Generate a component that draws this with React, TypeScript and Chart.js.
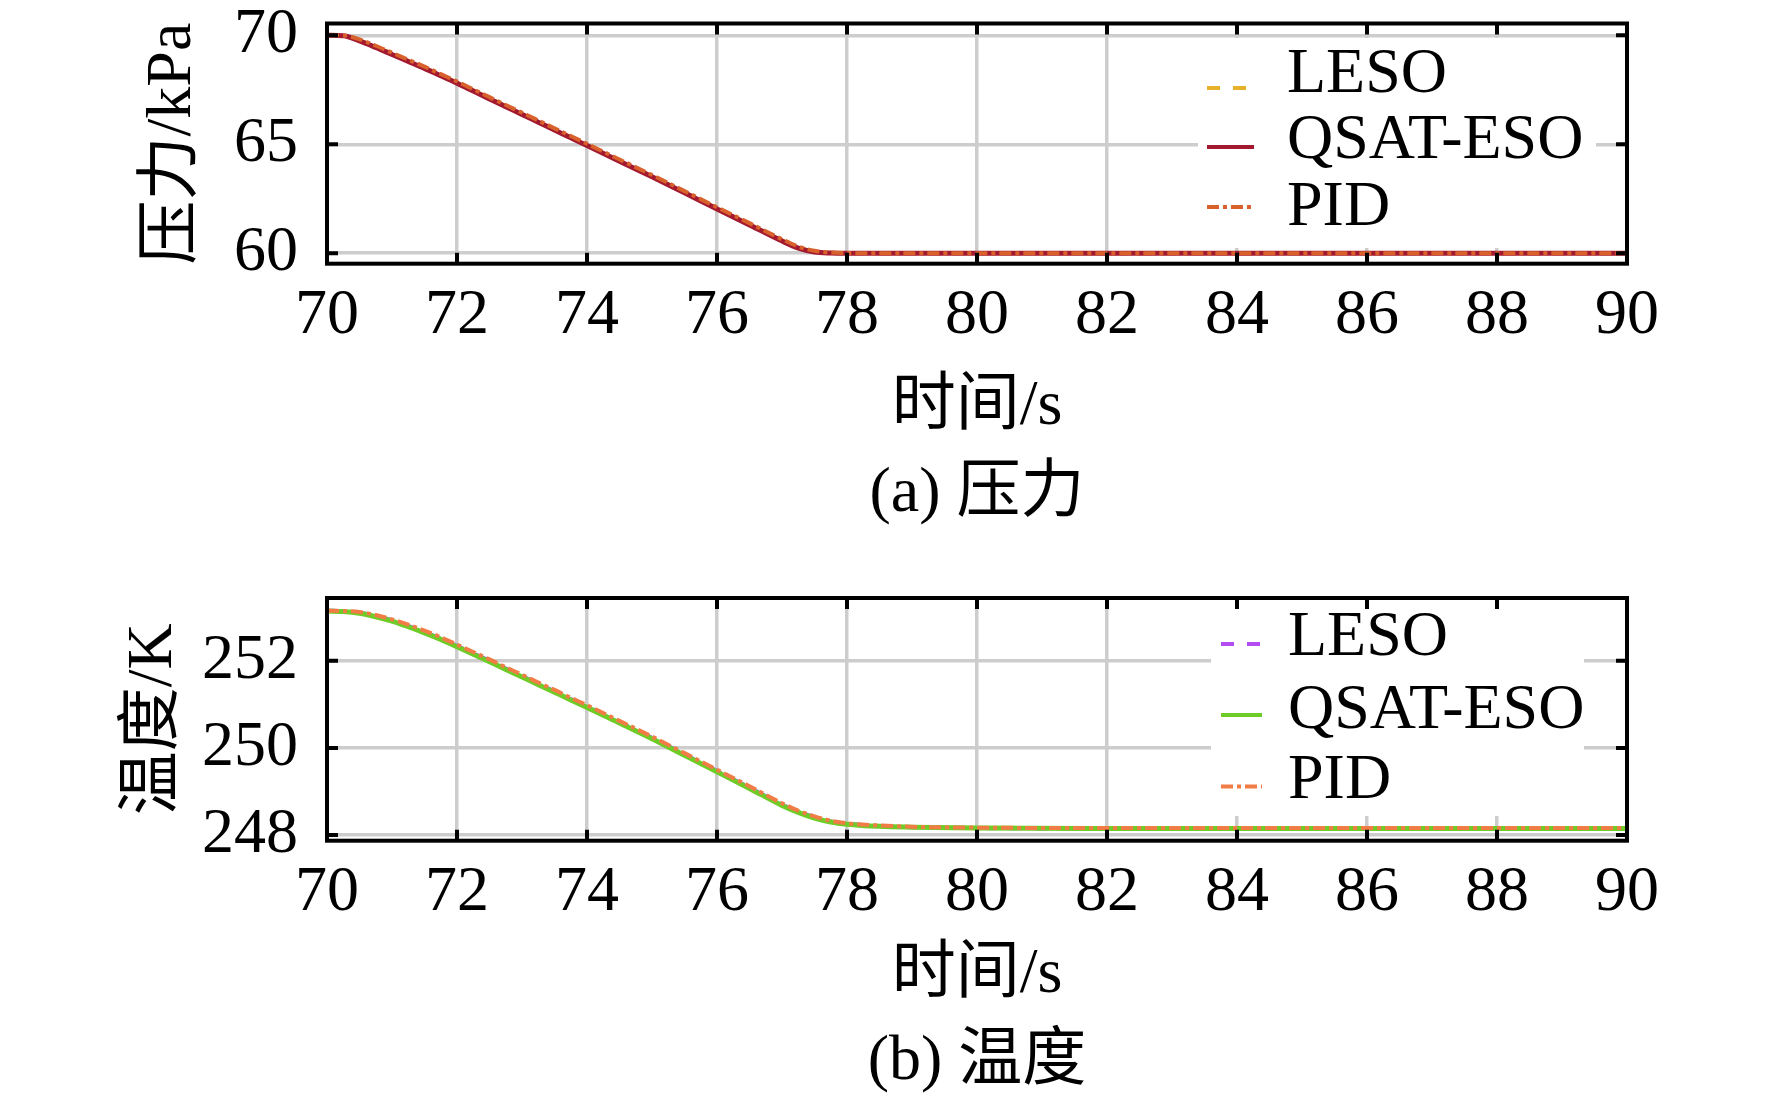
import { useEffect, useRef } from "react";
import { Chart, registerables } from "chart.js";

Chart.register(...registerables);

// time axis, seconds
const times = [
  70, 70.25, 70.5, 70.75, 71, 71.25, 71.5, 71.75, 72, 72.25, 72.5, 72.75, 73,
  73.25, 73.5, 73.75, 74, 74.5, 75, 75.5, 76, 76.5, 77, 77.25, 77.5, 77.75, 78,
  78.5, 79, 80, 82, 84, 86, 88, 90,
];

// (a) pressure, kPa
const pressureLeso = [
  70.0, 69.99, 69.77, 69.47, 69.15, 68.83, 68.51, 68.17, 67.83, 67.47, 67.11,
  66.75, 66.4, 66.04, 65.68, 65.33, 64.97, 64.25, 63.54, 62.8, 62.06, 61.33,
  60.59, 60.27, 60.08, 60.02, 60.0, 60.0, 60.0, 60.0, 60.0, 60.0, 60.0, 60.0,
  60.0,
];
const pressureQsat = [
  70.0, 69.98, 69.74, 69.44, 69.12, 68.8, 68.48, 68.14, 67.8, 67.44, 67.08,
  66.72, 66.37, 66.01, 65.65, 65.3, 64.94, 64.22, 63.51, 62.77, 62.03, 61.3,
  60.56, 60.24, 60.06, 60.01, 60.0, 60.0, 60.0, 60.0, 60.0, 60.0, 60.0, 60.0,
  60.0,
];
const pressurePid = [
  70.0, 69.99, 69.81, 69.52, 69.2, 68.88, 68.56, 68.22, 67.88, 67.52, 67.16,
  66.8, 66.45, 66.09, 65.73, 65.38, 65.02, 64.3, 63.59, 62.85, 62.11, 61.38,
  60.64, 60.31, 60.11, 60.03, 60.01, 60.0, 60.0, 60.0, 60.0, 60.0, 60.0, 60.0,
  60.0,
];

// (b) temperature, K
const tempLeso = [
  253.15, 253.14, 253.1, 253.03, 252.93, 252.8, 252.66, 252.51, 252.34,
  252.17, 252.0, 251.82, 251.65, 251.47, 251.3, 251.12, 250.95, 250.59,
  250.23, 249.85, 249.47, 249.09, 248.7, 248.54, 248.41, 248.31, 248.26,
  248.21, 248.18, 248.16, 248.15, 248.15, 248.15, 248.15, 248.15,
];
const tempQsat = [
  253.14, 253.13, 253.09, 253.01, 252.91, 252.78, 252.64, 252.49, 252.32,
  252.15, 251.98, 251.8, 251.63, 251.45, 251.28, 251.1, 250.93, 250.57,
  250.21, 249.83, 249.45, 249.07, 248.68, 248.52, 248.39, 248.3, 248.25,
  248.2, 248.18, 248.16, 248.15, 248.15, 248.15, 248.15, 248.15,
];
const tempPid = [
  253.15, 253.14, 253.12, 253.05, 252.95, 252.83, 252.69, 252.54, 252.37,
  252.2, 252.03, 251.85, 251.68, 251.5, 251.33, 251.15, 250.98, 250.62,
  250.26, 249.88, 249.5, 249.12, 248.73, 248.56, 248.43, 248.33, 248.27,
  248.22, 248.19, 248.17, 248.16, 248.16, 248.16, 248.16, 248.16,
];

const seriesNames = ["LESO", "QSAT-ESO", "PID"];
const xTicks = [70, 72, 74, 76, 78, 80, 82, 84, 86, 88, 90];
const pressureTicks = [60, 65, 70];
const tempTicks = [248, 250, 252];

const FONT = "'Liberation Serif', 'Times New Roman', 'Noto Sans CJK SC', serif";
const W = 1772;

type LegendCfg = {
  box: [number, number, number, number];
  sampleX: [number, number];
  sampleY: number[];
  textX: number;
  textY: number[];
};

function makeLegend(cfg: LegendCfg) {
  return {
    id: "insideLegend",
    afterDatasetsDraw(chart: any) {
      const ctx = chart.ctx as CanvasRenderingContext2D;
      ctx.save();
      ctx.fillStyle = "#fff";
      ctx.fillRect(...cfg.box);
      chart.data.datasets.forEach((ds: any, i: number) => {
        ctx.strokeStyle = ds.borderColor;
        ctx.lineWidth = 4;
        ctx.setLineDash(ds.borderDash || []);
        ctx.beginPath();
        ctx.moveTo(cfg.sampleX[0], cfg.sampleY[i]);
        ctx.lineTo(cfg.sampleX[1], cfg.sampleY[i]);
        ctx.stroke();
        ctx.setLineDash([]);
        ctx.fillStyle = "#000";
        ctx.font = `64px ${FONT}`;
        ctx.textBaseline = "middle";
        ctx.textAlign = "left";
        ctx.fillText(ds.label, cfg.textX, cfg.textY[i]);
      });
      ctx.restore();
    },
  };
}

// black box round the plot with inward tick marks
const framePlugin = {
  id: "frame",
  afterDatasetsDraw(chart: any) {
    const ctx = chart.ctx as CanvasRenderingContext2D;
    const a = chart.chartArea;
    const { x, y } = chart.scales;
    const len = 11;
    ctx.save();
    ctx.strokeStyle = "#000";
    ctx.lineWidth = 4;
    ctx.strokeRect(a.left, a.top, a.right - a.left, a.bottom - a.top);
    ctx.beginPath();
    x.ticks.forEach((_t: any, i: number) => {
      const px = x.getPixelForTick(i);
      ctx.moveTo(px, a.top);
      ctx.lineTo(px, a.top + len);
      ctx.moveTo(px, a.bottom);
      ctx.lineTo(px, a.bottom - len);
    });
    y.ticks.forEach((_t: any, i: number) => {
      const py = y.getPixelForTick(i);
      ctx.moveTo(a.left, py);
      ctx.lineTo(a.left + len, py);
      ctx.moveTo(a.right, py);
      ctx.lineTo(a.right - len, py);
    });
    ctx.stroke();
    ctx.restore();
  },
};

type PanelProps = {
  height: number;
  padTop: number;
  xAxisHeight: number;
  yMin: number;
  yMax: number;
  yTicks: number[];
  yTitle: string;
  yTitlePad: number;
  xTitle: string[];
  series: number[][];
  colors: string[];
  legend: LegendCfg;
};

function Panel(p: PanelProps) {
  const canvasRef = useRef<HTMLCanvasElement | null>(null);

  useEffect(() => {
    if (!canvasRef.current) return;
    const dashes = [[13, 13], [], [12, 4, 4, 4]];
    const widths = [4, 5, 4];
    const order = [2, 1, 0];
    const gridColor = "#cdcdcd";

    const chart = new Chart(canvasRef.current, {
      type: "line",
      data: {
        datasets: p.series.map((vals, i) => ({
          label: seriesNames[i],
          data: times.map((t, j) => ({ x: t, y: vals[j] })),
          borderColor: p.colors[i],
          borderWidth: widths[i],
          borderDash: dashes[i],
          order: order[i],
          pointRadius: 0,
          cubicInterpolationMode: "monotone" as const,
          fill: false,
        })),
      },
      options: {
        responsive: false,
        animation: false,
        layout: { padding: { top: p.padTop, right: W - 1627, bottom: 0, left: 0 } },
        plugins: { legend: { display: false }, tooltip: { enabled: false } },
        scales: {
          x: {
            type: "linear",
            min: 70,
            max: 90,
            afterBuildTicks: (s: any) => {
              s.ticks = xTicks.map((v) => ({ value: v }));
            },
            afterFit: (s: any) => {
              s.height = p.xAxisHeight;
            },
            ticks: {
              autoSkip: false,
              maxRotation: 0,
              padding: 14,
              color: "#000",
              font: { family: FONT, size: 64 },
            },
            grid: { color: gridColor, lineWidth: 3.5, drawTicks: false },
            border: { display: false },
            title: {
              display: true,
              text: p.xTitle,
              color: "#000",
              font: { family: FONT, size: 64, lineHeight: 1.36 },
              padding: { top: 0, bottom: 0 },
            },
          },
          y: {
            type: "linear",
            min: p.yMin,
            max: p.yMax,
            afterBuildTicks: (s: any) => {
              s.ticks = p.yTicks.map((v) => ({ value: v }));
            },
            afterFit: (s: any) => {
              s.width = 327;
            },
            ticks: {
              padding: 0,
              color: "#000",
              font: { family: FONT, size: 64, lineHeight: 0.6 },
            },
            // invisible outer tick marks only push the labels off the frame
            grid: {
              color: gridColor,
              lineWidth: 3.5,
              drawTicks: true,
              tickLength: 29,
              tickColor: "rgba(0,0,0,0)",
            },
            border: { display: false },
            title: {
              display: true,
              text: p.yTitle,
              color: "#000",
              font: { family: FONT, size: 64, lineHeight: 1.2 },
              padding: { top: p.yTitlePad, bottom: 0 },
            },
          },
        },
      },
      plugins: [makeLegend(p.legend), framePlugin],
    });

    return () => chart.destroy();
  }, []);

  return (
    <canvas
      ref={canvasRef}
      width={W}
      height={p.height}
      style={{ display: "block" }}
    />
  );
}

export default function App() {
  useEffect(() => {
    document.body.style.margin = "0";
  }, []);

  return (
    <div style={{ width: W, background: "#fff" }}>
      <Panel
        height={538}
        padTop={23.5}
        xAxisHeight={538 - 263.7}
        yMin={59.52}
        yMax={70.54}
        yTicks={pressureTicks}
        yTitle="压力/kPa"
        yTitlePad={135}
        xTitle={["时间/s", "(a) 压力"]}
        series={[pressureLeso, pressureQsat, pressurePid]}
        colors={["#e8b12a", "#a31a30", "#d8612c"]}
        legend={{
          box: [1198, 38, 398, 210],
          sampleX: [1207, 1254],
          sampleY: [88, 147, 207],
          textX: 1287,
          textY: [75, 141, 208],
        }}
      />
      <Panel
        height={568}
        padTop={60}
        xAxisHeight={568 - 302.7}
        yMin={247.87}
        yMax={253.44}
        yTicks={tempTicks}
        yTitle="温度/K"
        yTitlePad={116}
        xTitle={["时间/s", "(b) 温度"]}
        series={[tempLeso, tempQsat, tempPid]}
        colors={["#b54cf2", "#6dcc26", "#f27c45"]}
        legend={{
          box: [1211, 71, 373, 207],
          sampleX: [1221, 1262],
          sampleY: [106, 177, 248.5],
          textX: 1288,
          textY: [100.5, 172.7, 243],
        }}
      />
    </div>
  );
}
